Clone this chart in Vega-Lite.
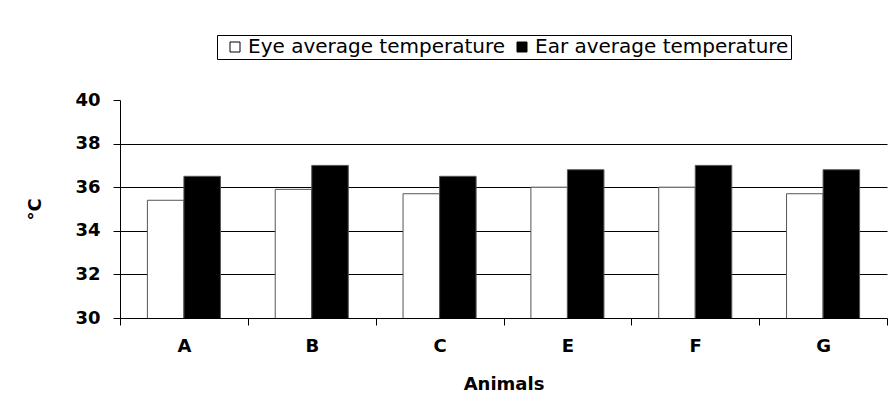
{
  "$schema": "https://vega.github.io/schema/vega-lite/v6.json",
  "autosize": {"type": "none"},
  "width": 767,
  "height": 218,
  "padding": {"left": 120, "top": 100, "right": 1, "bottom": 97},
  "background": "white",
  "data": {
    "values": [
      {"animal": "A", "series": "Eye average temperature", "value": 35.4},
      {"animal": "A", "series": "Ear average temperature", "value": 36.5},
      {"animal": "B", "series": "Eye average temperature", "value": 35.9},
      {"animal": "B", "series": "Ear average temperature", "value": 37.0},
      {"animal": "C", "series": "Eye average temperature", "value": 35.7},
      {"animal": "C", "series": "Ear average temperature", "value": 36.5},
      {"animal": "E", "series": "Eye average temperature", "value": 36.0},
      {"animal": "E", "series": "Ear average temperature", "value": 36.8},
      {"animal": "F", "series": "Eye average temperature", "value": 36.0},
      {"animal": "F", "series": "Ear average temperature", "value": 37.0},
      {"animal": "G", "series": "Eye average temperature", "value": 35.7},
      {"animal": "G", "series": "Ear average temperature", "value": 36.8}
    ]
  },
  "mark": {"type": "bar", "stroke": "#555555", "strokeWidth": 1, "clip": true},
  "encoding": {
    "x": {
      "field": "animal",
      "type": "nominal",
      "sort": null,
      "scale": {"paddingInner": 0, "paddingOuter": 0},
      "axis": {
        "title": "Animals",
        "labelAngle": 0,
        "tickBand": "extent",
        "tickSize": 7,
        "tickColor": "black",
        "domainColor": "black",
        "labelFont": "DejaVu Sans",
        "labelFontWeight": "bold",
        "labelFontSize": 18,
        "labelColor": "black",
        "labelPadding": 12,
        "titleFont": "DejaVu Sans",
        "titleFontWeight": "bold",
        "titleFontSize": 18,
        "titleColor": "black",
        "titlePadding": 20
      }
    },
    "xOffset": {
      "field": "series",
      "type": "nominal",
      "sort": ["Eye average temperature", "Ear average temperature"],
      "scale": {"paddingInner": 0, "paddingOuter": 0.75}
    },
    "y": {
      "field": "value",
      "type": "quantitative",
      "scale": {"domain": [30, 40], "nice": false, "zero": false},
      "axis": {
        "title": "°C",
        "values": [30, 32, 34, 36, 38, 40],
        "grid": true,
        "gridColor": "black",
        "gridOpacity": {"condition": {"test": "datum.value == 40 || datum.value == 30", "value": 0}, "value": 1},
        "tickSize": 7,
        "tickColor": "black",
        "domainColor": "black",
        "labelFont": "DejaVu Sans",
        "labelFontWeight": "bold",
        "labelFontSize": 18,
        "labelColor": "black",
        "labelPadding": 13,
        "titleFont": "DejaVu Sans",
        "titleFontWeight": "bold",
        "titleFontSize": 18,
        "titleColor": "black",
        "titlePadding": 30
      }
    },
    "color": {
      "field": "series",
      "type": "nominal",
      "sort": ["Eye average temperature", "Ear average temperature"],
      "scale": {"domain": ["Eye average temperature", "Ear average temperature"], "range": ["white", "black"]},
      "legend": {
        "title": null,
        "orient": "none",
        "direction": "horizontal",
        "legendX": 97,
        "legendY": -65,
        "strokeColor": "black",
        "padding": 2,
        "symbolType": "square",
        "symbolSize": 100,
        "symbolOffset": 6,
        "symbolStrokeColor": "black",
        "symbolStrokeWidth": 1,
        "symbolOpacity": 1,
        "labelFont": "DejaVu Sans",
        "labelFontSize": 20,
        "labelLimit": 400,
        "labelColor": "black",
        "labelOffset": 3,
        "columnPadding": 0
      }
    }
  },
  "config": {
    "view": {"stroke": null},
    "axis": {"domainWidth": 1, "tickWidth": 1, "gridWidth": 1}
  }
}
